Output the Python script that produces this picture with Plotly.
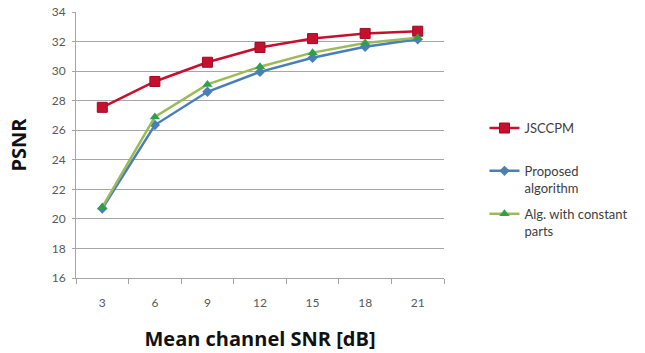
import plotly.graph_objects as go

snr = ["3", "6", "9", "12", "15", "18", "21"]
jsccpm = [27.55, 29.3, 30.6, 31.6, 32.2, 32.55, 32.7]
proposed = [20.7, 26.35, 28.6, 29.95, 30.9, 31.65, 32.15]
constant_parts = [20.8, 26.9, 29.1, 30.3, 31.25, 31.9, 32.25]
y_ticks = [16, 18, 20, 22, 24, 26, 28, 30, 32, 34]

fig = go.Figure()
fig.add_trace(go.Scatter(
    x=snr, y=jsccpm, name="JSCCPM<br> ", mode="lines+markers",
    line=dict(color="#C8102E", width=2.5),
    marker=dict(symbol="square", size=10, color="#C8102E", line=dict(color="#9E0B25", width=1)),
    legendgroup="a"))
fig.add_trace(go.Scatter(
    x=snr, y=proposed, name="Proposed<br>algorithm", mode="lines+markers",
    line=dict(color="#4A7EBB", width=2.5),
    marker=dict(symbol="diamond", size=8, color="#4A7EBB"),
    legendgroup="b"))
fig.add_trace(go.Scatter(
    x=snr, y=constant_parts, name="Alg. with constant<br>parts", mode="lines+markers",
    line=dict(color="#9BBB59", width=2.5),
    marker=dict(symbol="triangle-up", size=9, color="#2FA04A"),
    legendgroup="c"))

fig.update_layout(
    width=645, height=353,
    margin=dict(l=76, r=201, t=12, b=75, autoexpand=False),
    paper_bgcolor="white", plot_bgcolor="white",
    font=dict(family="Lato, Open Sans, sans-serif", color="#404040"),
    showlegend=True,
    hovermode=False,
    legend=dict(x=1.11, y=0.62, xanchor="left", yanchor="top",
                font=dict(size=13, color="#404040"),
                tracegroupgap=6, valign="top", itemwidth=30,
                bgcolor="rgba(0,0,0,0)"),
    xaxis=dict(
        type="category", tickvals=snr, ticktext=snr,
        title=dict(text="<b>Mean channel SNR [dB]</b>",
                   font=dict(family="Open Sans, Lato, sans-serif", size=20, color="#111111"), standoff=22),
        tickfont=dict(size=12, color="#595959"),
        showgrid=False, showline=True, linecolor="#A6A6A6", linewidth=1,
        ticks="outside", ticklen=5, tickcolor="#A6A6A6", tickson="boundaries",
        ticklabelstandoff=14,
        range=[-0.5, 6.5], zeroline=False),
    yaxis=dict(
        range=[16, 34], tickvals=y_ticks, ticktext=[str(v) for v in y_ticks],
        title=dict(text="<b>PSNR</b>",
                   font=dict(family="Open Sans, Lato, sans-serif", size=20, color="#111111"), standoff=19),
        tickfont=dict(size=12, color="#595959"),
        showgrid=True, gridcolor="#A6A6A6", gridwidth=1,
        showline=True, linecolor="#A6A6A6", linewidth=1,
        ticks="outside", ticklen=3, tickcolor="#A6A6A6", zeroline=False,
        ticklabelstandoff=4),
)

fig.write_html("out.html", config={"displayModeBar": False},
               post_script="document.body.style.margin='0px';")
